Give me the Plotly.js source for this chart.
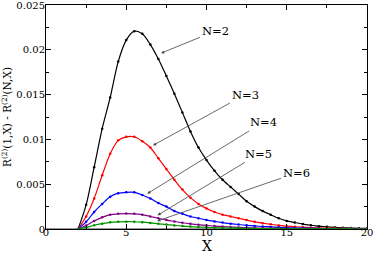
<!DOCTYPE html>
<html><head><meta charset="utf-8">
<script src="https://cdn.plot.ly/plotly-3.0.1.min.js"></script>
<style>html,body{margin:0;padding:0;background:#fff}#c{width:374px;height:253px}</style>
</head><body><div id="c"></div>
<script>
const xVals = [2,2.5,3,3.5,4,4.5,5,5.5,6,6.5,7,7.5,8,8.5,9,9.5,10,10.5,11,11.5,12,12.5,13,13.5,14,14.5,15,15.5,16,16.5,17,17.5,18,18.5,19,19.5,20];
const n2 = [0,0.0027,0.0069,0.0112,0.0147,0.0187,0.0211,0.0221,0.0218,0.0206,0.0190,0.0171,0.0151,0.0130,0.0109,0.0091,0.0077,0.0065,0.0055,0.0047,0.0039,0.0031,0.0025,0.0020,0.0016,0.0012,0.0009,0.00072,0.00055,0.00042,0.00031,0.00024,0.00018,0.00014,0.0001,0.00008,0.00006];
const n3 = [0,0.0014,0.0034,0.0060,0.0084,0.0099,0.0103,0.0103,0.0098,0.0091,0.0079,0.0067,0.0055,0.0044,0.0035,0.0028,0.0023,0.0019,0.0016,0.0014,0.0012,0.0010,0.0008,0.00065,0.00052,0.0004,0.00032,0.00025,0.0002,0.00015,0.00012,0.0001,0.00008,0.00006,0.00005,0.00004,0.00003];
const n4 = [0,0.0008,0.0019,0.0028,0.0036,0.0040,0.0041,0.0041,0.0038,0.0034,0.0029,0.0025,0.0020,0.0017,0.0014,0.0012,0.0010,0.00085,0.00072,0.0006,0.0005,0.00041,0.00034,0.00028,0.00023,0.00019,0.00015,0.00012,0.0001,0.00008,0.00006,0.00005,0.00004,0.00003,0.000025,0.00002,0.000015];
const n5 = [0,0.0004,0.0009,0.0013,0.0016,0.0017,0.00172,0.0017,0.0016,0.0014,0.0012,0.001,0.00085,0.0007,0.00058,0.00048,0.0004,0.00033,0.00027,0.00022,0.00018,0.00015,0.00012,0.0001,0.00008,0.000065,0.00005,0.00004,0.000033,0.000026,0.00002,0.000016,0.000013,0.00001,0.000008,0.000006,0.000005];
const n6 = [0,0.00018,0.00042,0.0006,0.00074,0.0008,0.00082,0.00081,0.00076,0.00068,0.00058,0.00049,0.0004,0.00033,0.00027,0.00022,0.00018,0.00015,0.00012,0.0001,0.00008,0.000065,0.00005,0.00004,0.000033,0.000026,0.00002,0.000016,0.000013,0.00001,0.000008,0.000006,0.000005,0.000004,0.000003,0.000002,0.000002];
const seriesNames = ["N=2","N=3","N=4","N=5","N=6"];
const seriesColors = ["#000000","#ff0000","#0000ff","#800080","#009000"];
const xTickVals = [0,5,10,15,20];
const yTickVals = [0,0.005,0.01,0.015,0.02,0.025];
const yTickText = ["0","0.005","0.01","0.015","0.02","0.025"];
const xTitle = "X";
const yTitle = "R<sup>(2)</sup>(1,X) - R<sup>(2)</sup>(N,X)";
// annotation placement: [headX, headY, textX, textY]
const labelPos = [[7.17,0.01964,10.53,0.0221],[6.67,0.00934,12.40,0.0150],[6.31,0.00395,13.52,0.0119],[6.95,0.00153,13.27,0.0084],[6.93,0.00089,15.58,0.00625]];

const allY = [n2,n3,n4,n5,n6];
const traces = allY.map((ys,i)=>({
  x:xVals, y:ys, type:'scatter', mode:'lines+markers', name:seriesNames[i],
  line:{color:seriesColors[i], width:1.2, shape:'spline', smoothing:0.8},
  marker:{color:seriesColors[i], size:2.5}, showlegend:false
}));
const FAM = 'DejaVu Serif';
const font = {family:FAM, color:'#000'};
const annotations = labelPos.map((p,i)=>({
  x:p[0], y:p[1], ax:p[2], ay:p[3], axref:'x', ayref:'y', xref:'x', yref:'y',
  text:seriesNames[i], showarrow:true, arrowhead:2, arrowsize:0.8, arrowwidth:0.8,
  arrowcolor:'#444', font:{family:FAM, color:'#000', size:11.5}, standoff:0
}));
annotations.push({xref:'paper', yref:'paper', x:0.5, y:-0.078, yanchor:'middle', xanchor:'center',
  showarrow:false, text:xTitle, font:{family:FAM, color:'#000', size:14}});
const layout = {
  width:374, height:253, margin:{l:46,r:7,t:5,b:24},
  paper_bgcolor:'#fff', plot_bgcolor:'#fff', font:font,
  xaxis:{range:[0,20], tickvals:xTickVals, ticks:'inside', ticklen:5, tickcolor:'#000',
    showline:true, linecolor:'#000', linewidth:1, mirror:'ticks', showgrid:false, zeroline:false,
    tickfont:{family:FAM, color:'#000', size:10}, ticklabelstandoff:-6, ticklabeloverflow:'allow',
    minor:{dtick:2.5, tick0:0, ticks:'inside', ticklen:3, tickcolor:'#000', showgrid:false}},
  yaxis:{range:[0,0.02502], tickvals:yTickVals, ticktext:yTickText, ticks:'inside', ticklen:5, tickcolor:'#000',
    showline:true, linecolor:'#000', linewidth:1, mirror:'ticks', showgrid:false, zeroline:false,
    tickfont:{family:FAM, color:'#000', size:10}, ticklabelstandoff:-2, ticklabeloverflow:'allow',
    minor:{dtick:0.0025, tick0:0, ticks:'inside', ticklen:3, tickcolor:'#000', showgrid:false},
    title:{text:yTitle, font:{family:FAM, color:'#000', size:10.5}, standoff:4}},
  shapes:[{type:'line', xref:'paper', yref:'y', x0:0, x1:1, y0:0, y1:0, line:{color:'#999', width:2}, layer:'below'}],
  annotations:annotations
};
Plotly.newPlot('c', traces, layout, {staticPlot:true, displayModeBar:false});
</script></body></html>
